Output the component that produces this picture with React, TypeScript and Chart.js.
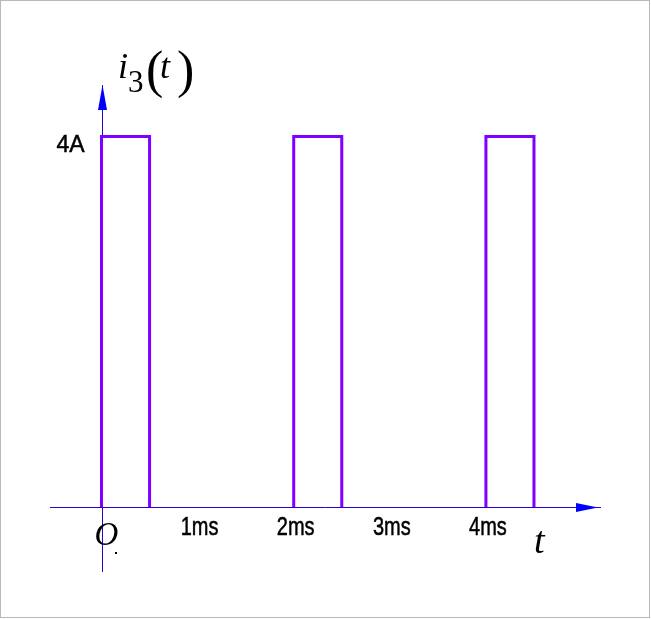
import React, { useEffect, useRef } from "react";
import { Chart, registerables } from "chart.js";

Chart.register(...registerables);

// ---- data ----
const pulseOn = [0, 2, 4]; // ms
const pulseOff = [0.5, 2.5, 4.5]; // ms
const pulseLevel = [4, 4, 4]; // A
const tickValues = [1, 2, 3, 4];
const tickLabels = ["1ms", "2ms", "3ms", "4ms"];
const yTickValue = 4;
const yTickLabel = "4A";

const X_MIN = -0.536;
const X_MAX = 5.187;
const Y_MIN = -0.702;
const Y_MAX = 4.556;

function buildWave() {
  const pts: { x: number; y: number | null }[] = [];
  for (let i = 0; i < pulseOn.length; i++) {
    pts.push({ x: pulseOn[i], y: 0 });
    pts.push({ x: pulseOn[i], y: pulseLevel[i] });
    pts.push({ x: pulseOff[i], y: pulseLevel[i] });
    pts.push({ x: pulseOff[i], y: 0 });
    if (i < pulseOn.length - 1) pts.push({ x: (pulseOff[i] + pulseOn[i + 1]) / 2, y: null });
  }
  return pts;
}

const AXIS_COLOR = "#2a00d0";
const ARROW_COLOR = "#0000ff";
const PULSE_COLOR = "#8000ff";

function scaledText(ctx: CanvasRenderingContext2D, text: string, x: number, y: number, sx: number, align: CanvasTextAlign) {
  ctx.save();
  ctx.translate(x, y);
  ctx.scale(sx, 1);
  ctx.textAlign = align;
  ctx.textBaseline = "alphabetic";
  ctx.fillText(text, 0, 0);
  ctx.strokeStyle = "#000000";
  ctx.lineWidth = 0.5;
  ctx.strokeText(text, 0, 0);
  ctx.restore();
}

const decorPlugin = {
  id: "decor",
  beforeDraw(chart: any) {
    const ctx = chart.ctx as CanvasRenderingContext2D;
    ctx.save();
    ctx.fillStyle = "#ffffff";
    ctx.fillRect(0, 0, chart.width, chart.height);
    ctx.strokeStyle = "#b8b8b8";
    ctx.lineWidth = 1;
    ctx.strokeRect(0.5, 0.5, chart.width - 2, chart.height - 2);
    ctx.restore();
  },
  beforeDatasetsDraw(chart: any) {
    const ctx = chart.ctx as CanvasRenderingContext2D;
    const xs = chart.scales.x;
    const ys = chart.scales.y;
    const area = chart.chartArea;
    const x0 = Math.round(xs.getPixelForValue(0)) + 0.5;
    const y0 = Math.round(ys.getPixelForValue(0)) + 0.5;
    ctx.save();
    ctx.strokeStyle = AXIS_COLOR;
    ctx.lineWidth = 1;
    ctx.beginPath();
    ctx.moveTo(area.left, y0);
    ctx.lineTo(area.right + 1, y0);
    ctx.moveTo(x0, area.bottom);
    ctx.lineTo(x0, area.top);
    ctx.stroke();
    // arrows
    ctx.fillStyle = ARROW_COLOR;
    ctx.beginPath();
    ctx.moveTo(x0, area.top);
    ctx.lineTo(x0 - 4.5, area.top + 25);
    ctx.lineTo(x0 + 4.5, area.top + 25);
    ctx.closePath();
    ctx.fill();
    ctx.beginPath();
    ctx.moveTo(area.right - 2, y0);
    ctx.lineTo(area.right - 24, y0 - 4.5);
    ctx.lineTo(area.right - 24, y0 + 4.5);
    ctx.closePath();
    ctx.fill();
    ctx.restore();
  },
  afterDatasetsDraw(chart: any) {
    const ctx = chart.ctx as CanvasRenderingContext2D;
    const xs = chart.scales.x;
    const ys = chart.scales.y;
    const x0 = xs.getPixelForValue(0);
    const y0 = ys.getPixelForValue(0);
    ctx.save();
    ctx.fillStyle = "#000000";
    // x tick labels
    ctx.font = '25px "Liberation Sans", Arial, sans-serif';
    tickValues.forEach((v, i) => {
      scaledText(ctx, tickLabels[i], xs.getPixelForValue(v) + 2, y0 + 28, 0.8, "center");
    });
    // y tick label
    ctx.font = '23px "Liberation Sans", Arial, sans-serif';
    scaledText(ctx, yTickLabel, x0 - 17, ys.getPixelForValue(yTickValue) + 16, 1.0, "right");
    // origin
    ctx.font = 'italic 33px "Liberation Serif", "Times New Roman", serif';
    ctx.textAlign = "left";
    ctx.fillText("O", x0 - 7, y0 + 38);
    ctx.fillRect(Math.round(x0 + 13), Math.round(y0 + 45), 2, 2);
    // t axis name
    ctx.font = 'italic 38px "Liberation Serif", "Times New Roman", serif';
    ctx.fillText("t", 534, y0 + 46);
    // title i3(t)
    ctx.font = 'italic 36px "Liberation Serif", "Times New Roman", serif';
    ctx.fillText("i", 118, 78);
    ctx.fillText("t", 160, 78);
    ctx.font = '31px "Liberation Serif", "Times New Roman", serif';
    ctx.fillText("3", 128, 92);
    ctx.font = '52px "Liberation Serif", "Times New Roman", serif';
    ctx.fillText("(", 146, 87);
    ctx.fillText(")", 177, 87);
    ctx.restore();
  },
};

export default function App() {
  const ref = useRef<HTMLCanvasElement>(null);
  useEffect(() => {
    if (!ref.current) return;
    const chart = new Chart(ref.current, {
      type: "line",
      data: {
        datasets: [
          {
            data: buildWave() as any,
            borderColor: PULSE_COLOR,
            borderWidth: 3,
            pointRadius: 0,
            spanGaps: false,
            fill: false,
            tension: 0,
          },
        ],
      },
      options: {
        animation: false,
        responsive: false,
        maintainAspectRatio: false,
        devicePixelRatio: 1,
        layout: { padding: { left: 50, right: 51, top: 85, bottom: 47 } },
        scales: {
          x: { type: "linear", min: X_MIN, max: X_MAX, display: false },
          y: { type: "linear", min: Y_MIN, max: Y_MAX, display: false },
        },
        plugins: { legend: { display: false }, tooltip: { enabled: false } },
      },
      plugins: [decorPlugin],
    });
    return () => chart.destroy();
  }, []);
  return (
    <div style={{ position: "fixed", left: 0, top: 0, width: 651, height: 619 }}>
      <canvas ref={ref} width={651} height={619} style={{ display: "block" }} />
    </div>
  );
}
